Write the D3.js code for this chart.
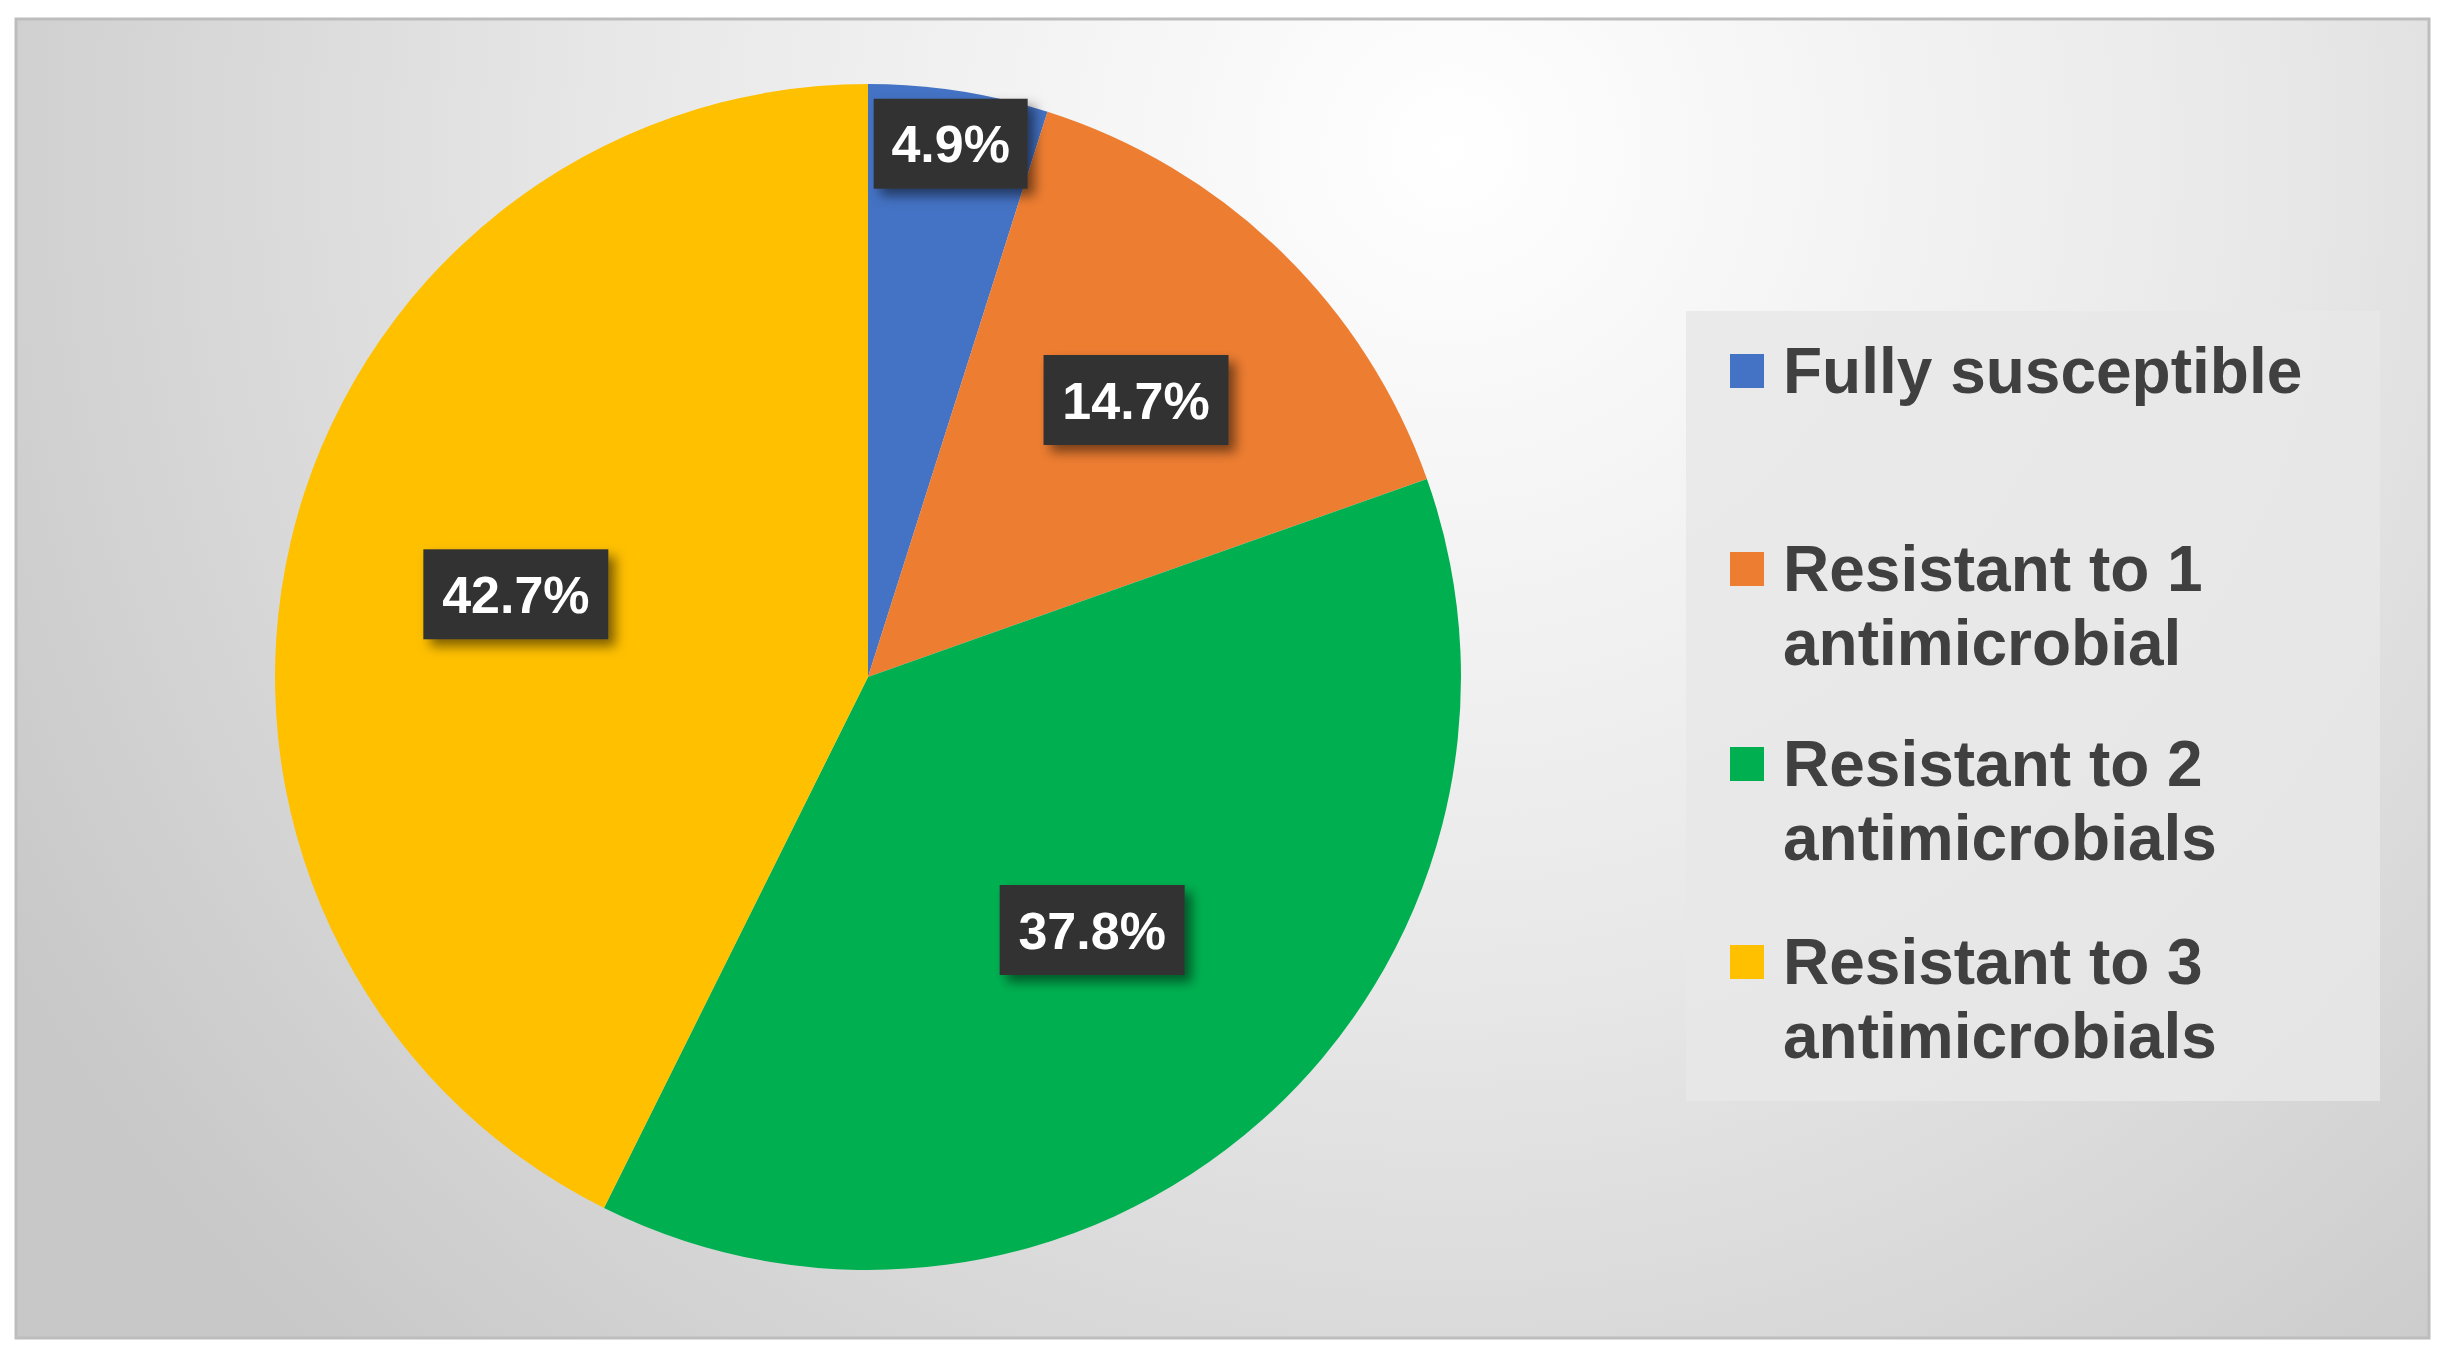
<!DOCTYPE html>
<html>
<head>
<meta charset="utf-8">
<script src="https://cdn.jsdelivr.net/npm/d3@7"></script>
<style>
  body { margin: 0; background: #fff; }
  svg { display: block; }
</style>
</head>
<body>
<div id="app"></div>
<script>
// pie of antimicrobial resistance shares

const categories = ["Fully susceptible", "Resistant to 1 antimicrobial",
  "Resistant to 2 antimicrobials", "Resistant to 3 antimicrobials"];
const legendLines = [["Fully susceptible"], ["Resistant to 1", "antimicrobial"],
  ["Resistant to 2", "antimicrobials"], ["Resistant to 3", "antimicrobials"]];
const values = [4.9, 14.7, 37.8, 42.7];
const colors = ["#4472c4", "#ed7d31", "#00b050", "#ffc000"];
// label centres as fraction of radius (Excel best-fit positions)
const labelRadius = [0.91, 0.65, 0.57, 0.61];

const W = 2444, H = 1369;
const cx = 868, cy = 677, r = 593;

const svg = d3.select("#app").append("svg").attr("width", W).attr("height", H);
const defs = svg.append("defs");

const bg = defs.append("radialGradient").attr("id", "bg")
  .attr("gradientUnits", "userSpaceOnUse")
  .attr("cx", 1450).attr("cy", 150).attr("r", 1650);
bg.append("stop").attr("offset", 0).attr("stop-color", "#ffffff");
bg.append("stop").attr("offset", 0.5).attr("stop-color", "#e8e8e8");
bg.append("stop").attr("offset", 1).attr("stop-color", "#c8c8c8");

const shadow = defs.append("filter").attr("id", "shadow")
  .attr("x", "-20%").attr("y", "-20%").attr("width", "150%").attr("height", "160%");
shadow.append("feDropShadow").attr("dx", 7).attr("dy", 7).attr("stdDeviation", 6)
  .attr("flood-color", "#000").attr("flood-opacity", 0.5);

svg.append("rect").attr("x", 16).attr("y", 19).attr("width", 2413).attr("height", 1319)
  .attr("fill", "url(#bg)").attr("stroke", "#bdbdbd").attr("stroke-width", 3);

const pie = d3.pie().sort(null).value(d => d);
const arcs = pie(values);
const arc = d3.arc().innerRadius(0).outerRadius(r);

const g = svg.append("g").attr("transform", `translate(${cx},${cy})`);
g.selectAll("path").data(arcs).join("path")
  .attr("d", arc)
  .attr("fill", (d, i) => colors[i]);

const labels = g.selectAll("g.lab").data(arcs).join("g").attr("class", "lab")
  .attr("transform", (d, i) => {
    const c = d3.arc().innerRadius(r * labelRadius[i]).outerRadius(r * labelRadius[i]).centroid(d);
    return `translate(${c[0]},${c[1]})`;
  });
labels.each(function (d) {
  const t = d3.format(".1f")(d.data) + "%";
  const s = d3.select(this);
  const w = t.length * 31 + 30;
  s.append("rect").attr("x", -w / 2).attr("y", -45).attr("width", w).attr("height", 90)
    .attr("fill", "#333333").attr("filter", "url(#shadow)");
  s.append("text").text(t).attr("text-anchor", "middle").attr("dy", "0.36em")
    .attr("fill", "#fff").attr("font-family", "Liberation Sans, Arial, sans-serif")
    .attr("font-weight", "bold").attr("font-size", 52);
});

// legend
svg.append("rect").attr("x", 1686).attr("y", 311).attr("width", 694).attr("height", 790)
  .attr("fill", "#e8e8e8").attr("opacity", 0.85);
const legendY = [371, 569, 764, 962];
const leg = svg.append("g").selectAll("g").data(categories).join("g")
  .attr("transform", (d, i) => `translate(1730,${legendY[i]})`);
leg.append("rect").attr("x", 0).attr("y", -17).attr("width", 34).attr("height", 34)
  .attr("fill", (d, i) => colors[i]);
leg.each(function (d, i) {
  const t = d3.select(this).append("text").attr("x", 53)
    .attr("fill", "#404040").attr("font-family", "Liberation Sans, Arial, sans-serif")
    .attr("font-weight", "bold").attr("font-size", 64);
  legendLines[i].forEach((line, j) => {
    t.append("tspan").attr("x", 53).attr("y", j * 74).attr("dy", "0.35em").text(line);
  });
});
</script>
</body>
</html>
